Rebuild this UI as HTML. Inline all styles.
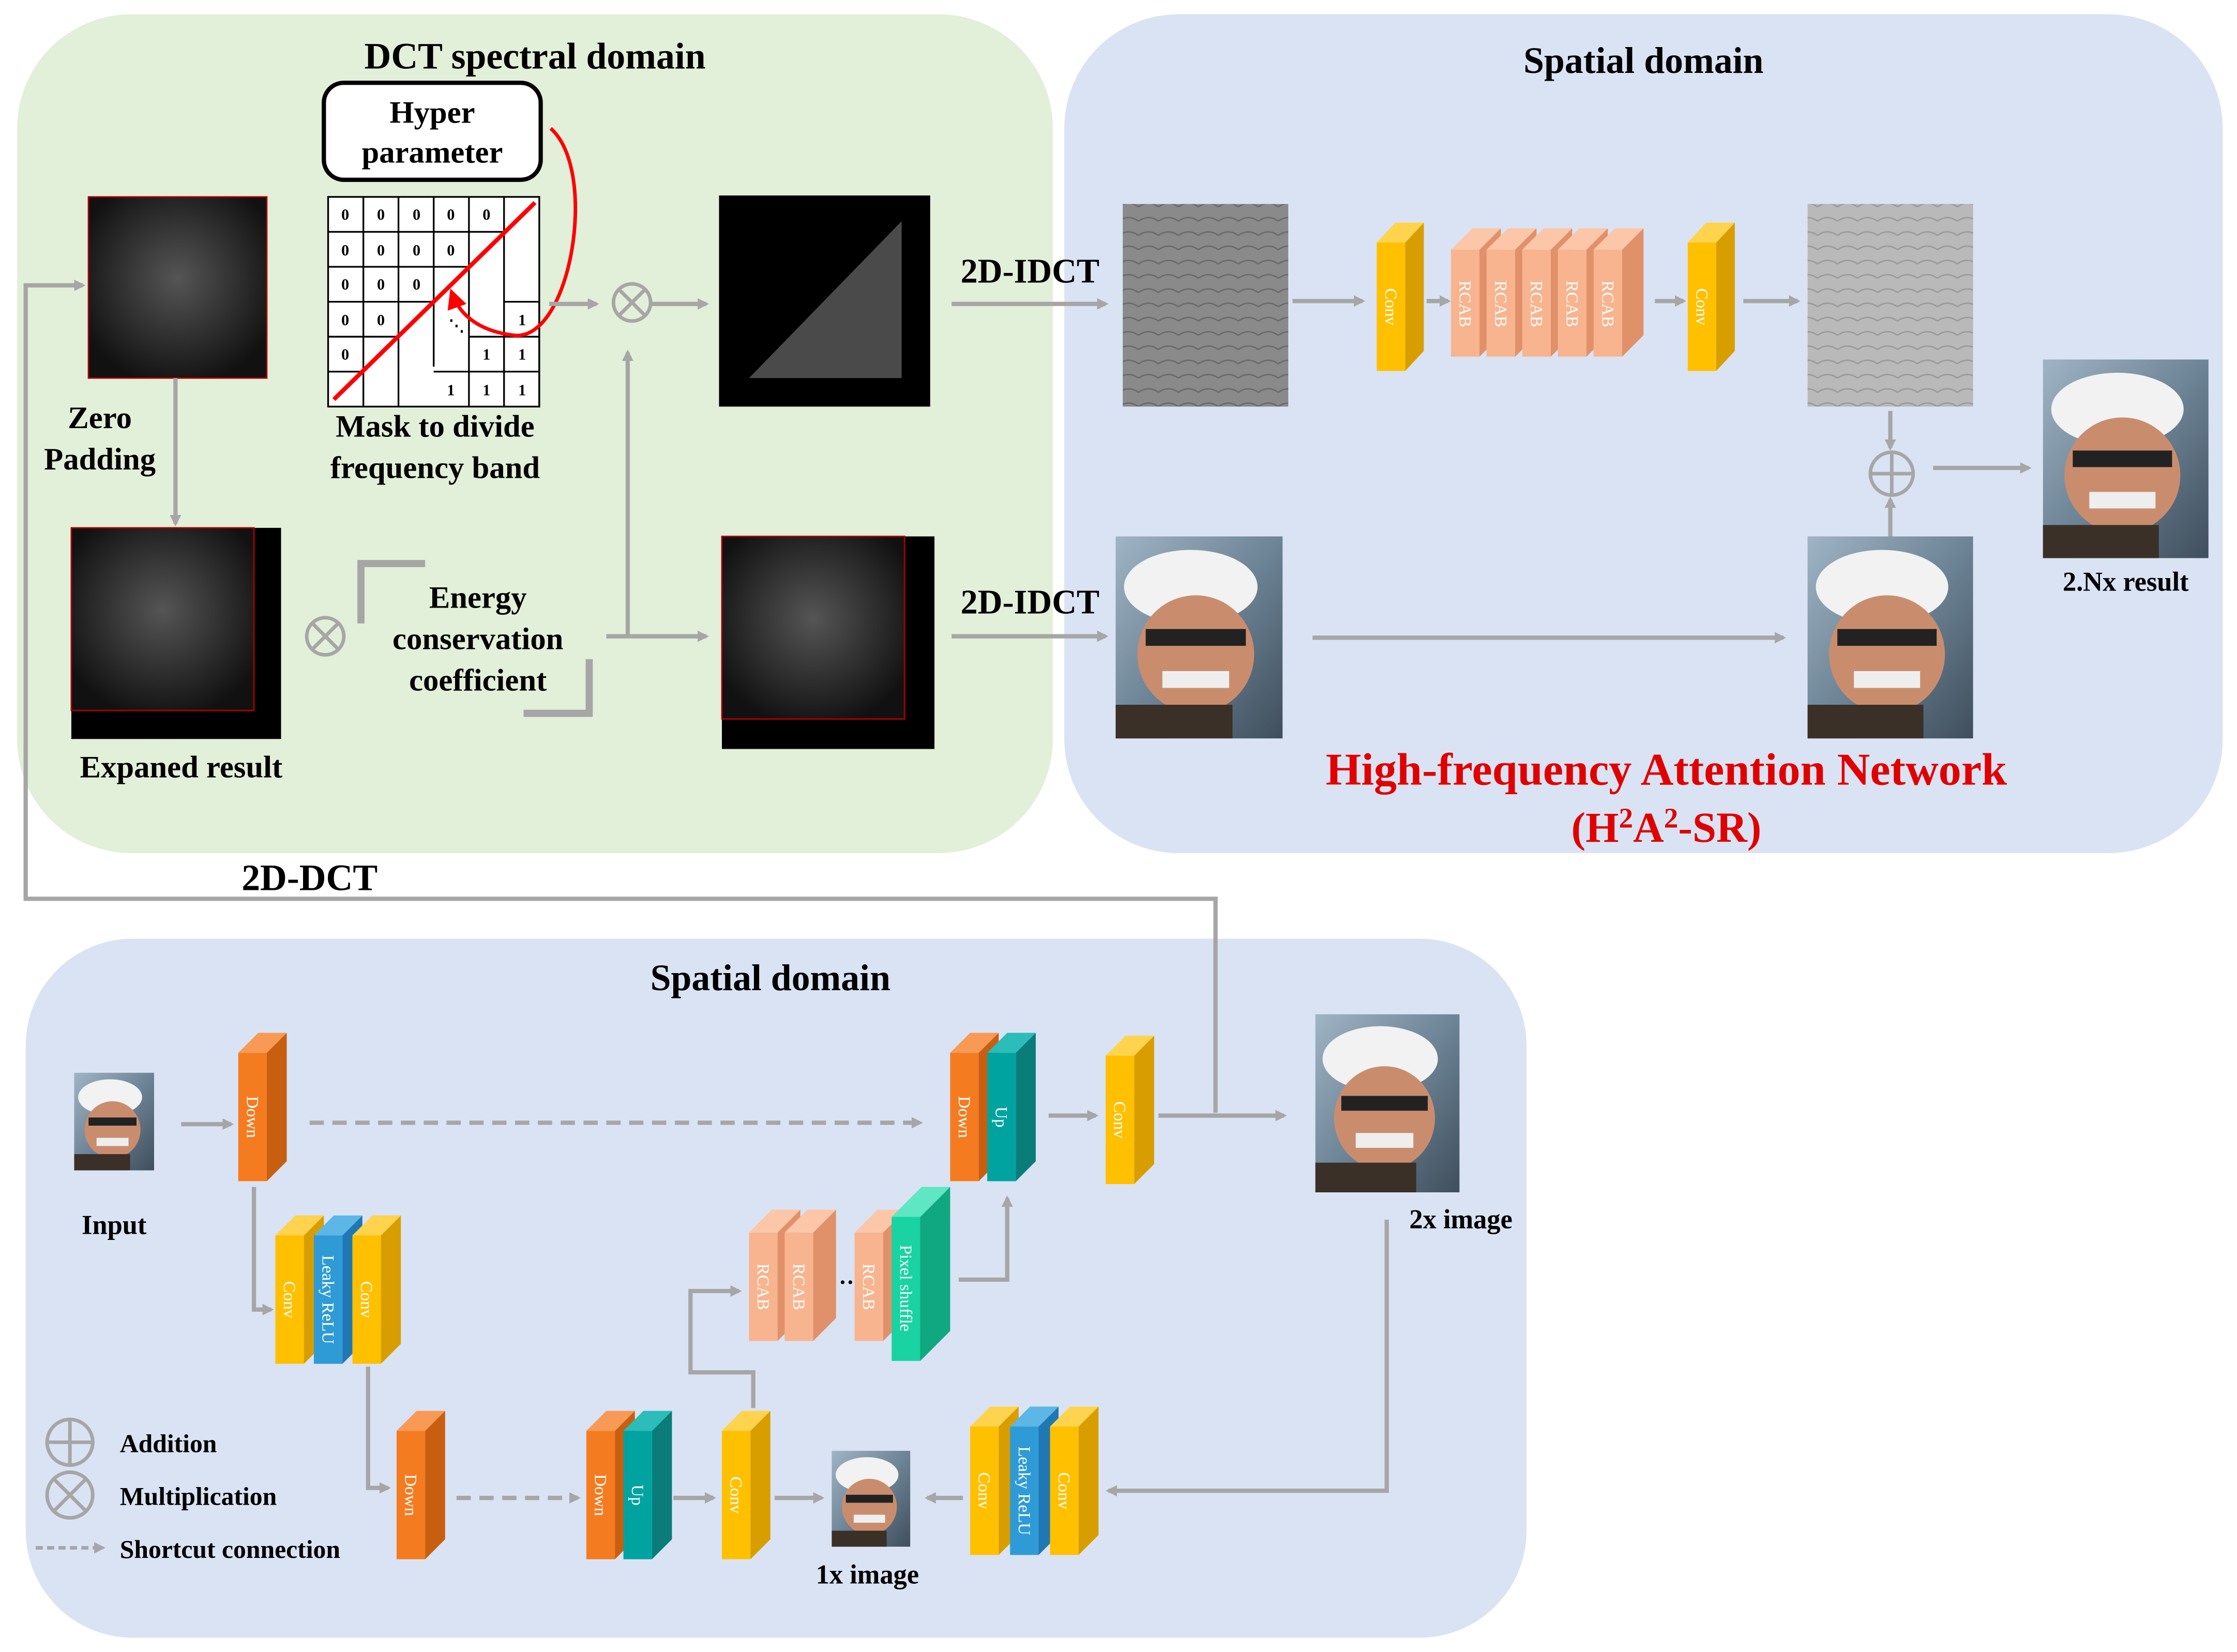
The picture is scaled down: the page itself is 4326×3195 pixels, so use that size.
<!DOCTYPE html>
<html><head><meta charset="utf-8"><style>
html,body{margin:0;padding:0;background:#fff}
svg{display:block}
text{font-family:"Liberation Serif",serif;font-weight:bold}
.bt{fill:#fff;font-family:"Liberation Serif",serif;font-size:12px;font-weight:normal}
</style></head><body>
<svg width="4326" height="3195" viewBox="0 0 1568 1158" xmlns="http://www.w3.org/2000/svg">
<defs>
<marker id="ar" markerWidth="8" markerHeight="8" refX="6" refY="4" orient="auto" markerUnits="userSpaceOnUse"><path d="M0,0 L8,4 L0,8 z" fill="#a6a6a6"/></marker>
<marker id="rr" markerWidth="14" markerHeight="14" refX="10" refY="7" orient="auto" markerUnits="userSpaceOnUse"><path d="M0,0 L14,7 L0,14 z" fill="#f00"/></marker>
<radialGradient id="noise" cx="50%" cy="45%" r="60%"><stop offset="0" stop-color="#555"/><stop offset="1" stop-color="#111"/></radialGradient>
<linearGradient id="face" x1="0" y1="0" x2="1" y2="1"><stop offset="0" stop-color="#9fb4c4"/><stop offset="0.5" stop-color="#6d8496"/><stop offset="1" stop-color="#3f4e5c"/></linearGradient>
<g id="faceimg">
<rect x="0" y="0" width="100" height="120" fill="url(#face)"/>
<ellipse cx="45" cy="30" rx="40" ry="22" fill="#f2f2f2"/>
<ellipse cx="48" cy="70" rx="35" ry="35" fill="#c98d6e"/>
<rect x="18" y="55" width="60" height="10" fill="#222"/>
<rect x="28" y="80" width="40" height="10" fill="#eee"/>
<rect x="0" y="100" width="70" height="20" fill="#3a3028"/>
</g>
<pattern id="grayp" width="14" height="10" patternUnits="userSpaceOnUse"><rect width="14" height="10" fill="#8a8a8a"/><path d="M0,5 Q7,0 14,5" stroke="#6a6a6a" fill="none"/></pattern>
<pattern id="lgp" width="14" height="10" patternUnits="userSpaceOnUse"><rect width="14" height="10" fill="#b9b9b9"/><path d="M0,5 Q7,0 14,5" stroke="#9a9a9a" fill="none"/></pattern>
</defs>

<!-- panels -->
<rect x="12" y="10" width="726" height="588" rx="80" fill="#e2efd9"/>
<rect x="746" y="10" width="812" height="588" rx="80" fill="#dae3f3"/>
<rect x="18" y="658" width="1052" height="490" rx="75" fill="#dae3f3"/>

<text x="375" y="48" font-size="26" text-anchor="middle">DCT spectral domain</text>
<text x="1152" y="51" font-size="26" text-anchor="middle">Spatial domain</text>
<text x="540" y="694" font-size="26" text-anchor="middle">Spatial domain</text>

<!-- hyper parameter -->
<rect x="227" y="58" width="152" height="68" rx="14" fill="#fff" stroke="#000" stroke-width="3"/>
<text x="303" y="86" font-size="22" text-anchor="middle" font-weight="normal">Hyper</text>
<text x="303" y="114" font-size="22" text-anchor="middle" font-weight="normal">parameter</text>

<!-- mask grid -->
<g stroke="#000" stroke-width="1.2" fill="#fff" font-family="Liberation Sans" font-size="10">
<rect x="230" y="138" width="148" height="147"/>
<g fill="none">
<path d="M254.7,138V285 M279.3,138V285 M304,138V257 M328.7,138V285 M353.3,138V285"/>
<path d="M230,162.5H353 M230,187H328 M230,211.5H304 M230,236H279 M230,260.5H254"/>
<path d="M353,211.5H378V285 M328.7,236H378 M304,260.5H378"/>
</g>
</g>
<g font-family="Liberation Sans" font-size="11" font-weight="bold" text-anchor="middle">
<text x="242" y="154">0</text><text x="267" y="154">0</text><text x="292" y="154">0</text><text x="316" y="154">0</text><text x="341" y="154">0</text>
<text x="242" y="179">0</text><text x="267" y="179">0</text><text x="292" y="179">0</text><text x="316" y="179">0</text>
<text x="242" y="203">0</text><text x="267" y="203">0</text><text x="292" y="203">0</text>
<text x="242" y="228">0</text><text x="267" y="228">0</text>
<text x="242" y="252">0</text>
<text x="366" y="228">1</text><text x="341" y="252">1</text><text x="366" y="252">1</text>
<text x="316" y="277">1</text><text x="341" y="277">1</text><text x="366" y="277">1</text>
<text x="320" y="232" font-weight="normal">⋱</text>
</g>
<line x1="234" y1="280" x2="375" y2="142" stroke="#f00" stroke-width="3"/>
<path d="M386,90 C420,120 400,240 360,235 C335,232 322,220 317,206" fill="none" stroke="#f00" stroke-width="2.5" marker-end="url(#rr)"/>
<text x="305" y="306" font-size="22" text-anchor="middle" font-weight="normal">Mask to divide</text>
<text x="305" y="335" font-size="22" text-anchor="middle" font-weight="normal">frequency band</text>

<!-- dct images -->
<rect x="62" y="138" width="125" height="127" fill="url(#noise)" stroke="#a00" stroke-width="1"/>
<text x="70" y="300" font-size="22" text-anchor="middle" font-weight="normal">Zero</text>
<text x="70" y="329" font-size="22" text-anchor="middle" font-weight="normal">Padding</text>
<rect x="50" y="370" width="147" height="148" fill="#000"/>
<rect x="50" y="370" width="128" height="128" fill="url(#noise)" stroke="#a00" stroke-width="1"/>
<text x="127" y="545" font-size="22" text-anchor="middle" font-weight="normal">Expaned result</text>

<rect x="504" y="137" width="148" height="148" fill="#000"/>
<polygon points="525,265 632,155 632,265" fill="#4a4a4a"/>
<rect x="506" y="376" width="149" height="149" fill="#000"/>
<rect x="506" y="376" width="128" height="128" fill="url(#noise)" stroke="#a00" stroke-width="1"/>

<!-- energy -->
<path d="M253,437V395H298" fill="none" stroke="#a6a6a6" stroke-width="5"/>
<path d="M367,500H413V462" fill="none" stroke="#a6a6a6" stroke-width="5"/>
<text x="335" y="426" font-size="22" text-anchor="middle" font-weight="normal">Energy</text>
<text x="335" y="455" font-size="22" text-anchor="middle" font-weight="normal">conservation</text>
<text x="335" y="484" font-size="22" text-anchor="middle" font-weight="normal">coefficient</text>

<!-- otimes -->
<g stroke="#a6a6a6" stroke-width="2.5" fill="none">
<circle cx="443" cy="212" r="13"/><path d="M434,203L452,221M452,203L434,221"/>
<circle cx="228" cy="446" r="13"/><path d="M219,437L237,455M237,437L219,455"/>
<circle cx="1326" cy="332" r="15"/><path d="M1311,332H1341M1326,317V347"/>
</g>

<!-- arrows top -->
<g stroke="#a6a6a6" stroke-width="3" fill="none" marker-end="url(#ar)">
<path d="M385,213H418"/><path d="M457,213H495"/>
<path d="M440,446V247"/><path d="M425,446H495"/>
<path d="M123,265V367"/>
<path d="M667,213H775"/><path d="M667,446H775"/>
<path d="M906,211H955"/><path d="M1000,211H1015"/><path d="M1160,211H1180"/><path d="M1222,211H1260"/>
<path d="M1325,288V314"/><path d="M1325,376V350"/><path d="M1355,328H1422"/>
<path d="M920,447H1250"/>
<path d="M852,780V630H18V200H58"/>
</g>
<text x="722" y="198" font-size="24" text-anchor="middle">2D-IDCT</text>
<text x="722" y="430" font-size="24" text-anchor="middle">2D-IDCT</text>
<text x="217" y="624" font-size="26" text-anchor="middle">2D-DCT</text>

<!-- spatial images -->
<rect x="787" y="143" width="116" height="142" fill="url(#grayp)"/>
<rect x="1267" y="143" width="116" height="142" fill="url(#lgp)"/>
<use href="#faceimg" transform="translate(782,376) scale(1.17,1.18)"/>
<use href="#faceimg" transform="translate(1267,376) scale(1.16,1.18)"/>
<use href="#faceimg" transform="translate(1432,252) scale(1.16,1.16)"/>
<text x="1490" y="414" font-size="19" text-anchor="middle">2.Nx result</text>
<text x="1168" y="550" font-size="32" fill="#e00000" text-anchor="middle">High-frequency Attention Network</text>
<text x="1168" y="590" font-size="30" fill="#e00000" text-anchor="middle">(H<tspan font-size="20" dy="-10">2</tspan><tspan dy="10">A</tspan><tspan font-size="20" dy="-10">2</tspan><tspan dy="10">-SR)</tspan></text>

<!-- blocks: front rect, side, top -->
<!-- yellow conv top -->
<g id="b1" transform="translate(965,170)">
<polygon points="20,0 33,-14 33,76 20,90" fill="#d89e00"/><polygon points="0,0 13,-14 33,-14 20,0" fill="#ffd34d"/><rect width="20" height="90" fill="#ffc000"/>
<text class="bt" transform="translate(10,45) rotate(90)" text-anchor="middle" dy="4">Conv</text></g>
<g transform="translate(1183,170)">
<polygon points="20,0 33,-14 33,76 20,90" fill="#d89e00"/><polygon points="0,0 13,-14 33,-14 20,0" fill="#ffd34d"/><rect width="20" height="90" fill="#ffc000"/>
<text class="bt" transform="translate(10,45) rotate(90)" text-anchor="middle" dy="4">Conv</text></g>
<!-- RCAB x5 -->
<g transform="translate(1017,175)"><polygon points="20,0 35,-15 35,60 20,75" fill="#e0916a"/><polygon points="0,0 15,-15 35,-15 20,0" fill="#fbc7a8"/><rect width="20" height="75" fill="#f8b48f"/><text class="bt" transform="translate(10,38) rotate(90)" text-anchor="middle" dy="4">RCAB</text></g>
<g transform="translate(1042,175)"><polygon points="20,0 35,-15 35,60 20,75" fill="#e0916a"/><polygon points="0,0 15,-15 35,-15 20,0" fill="#fbc7a8"/><rect width="20" height="75" fill="#f8b48f"/><text class="bt" transform="translate(10,38) rotate(90)" text-anchor="middle" dy="4">RCAB</text></g>
<g transform="translate(1067,175)"><polygon points="20,0 35,-15 35,60 20,75" fill="#e0916a"/><polygon points="0,0 15,-15 35,-15 20,0" fill="#fbc7a8"/><rect width="20" height="75" fill="#f8b48f"/><text class="bt" transform="translate(10,38) rotate(90)" text-anchor="middle" dy="4">RCAB</text></g>
<g transform="translate(1092,175)"><polygon points="20,0 35,-15 35,60 20,75" fill="#e0916a"/><polygon points="0,0 15,-15 35,-15 20,0" fill="#fbc7a8"/><rect width="20" height="75" fill="#f8b48f"/><text class="bt" transform="translate(10,38) rotate(90)" text-anchor="middle" dy="4">RCAB</text></g>
<g transform="translate(1117,175)"><polygon points="20,0 35,-15 35,60 20,75" fill="#e0916a"/><polygon points="0,0 15,-15 35,-15 20,0" fill="#fbc7a8"/><rect width="20" height="75" fill="#f8b48f"/><text class="bt" transform="translate(10,38) rotate(90)" text-anchor="middle" dy="4">RCAB</text></g>

<!-- bottom arrows -->
<g stroke="#a6a6a6" stroke-width="3" fill="none" marker-end="url(#ar)">
<path d="M127,788H162"/>
<path d="M178,832V918H190"/>
<path d="M258,958V1043H272"/>
<path d="M472,1050H500"/><path d="M543,1050H576"/><path d="M675,1050H650"/>
<path d="M972,855V1045H777"/>
<path d="M528,987V962H484V905H518"/>
<path d="M672,897H706V840"/>
<path d="M735,782H768"/><path d="M812,782H900"/>
</g>
<g stroke="#a6a6a6" stroke-width="3" fill="none" stroke-dasharray="10,6" marker-end="url(#ar)">
<path d="M217,787H645"/><path d="M320,1050H405"/>
</g>

<!-- bottom blocks -->
<g transform="translate(167,738)"><polygon points="20,0 34,-14 34,76 20,90" fill="#c85f10"/><polygon points="0,0 14,-14 34,-14 20,0" fill="#f89a55"/><rect width="20" height="90" fill="#f47b20"/><text class="bt" transform="translate(10,45) rotate(90)" text-anchor="middle" dy="4">Down</text></g>
<g transform="translate(193,866)"><polygon points="20,0 34,-14 34,76 20,90" fill="#d89e00"/><polygon points="0,0 14,-14 34,-14 20,0" fill="#ffd34d"/><rect width="20" height="90" fill="#ffc000"/><text class="bt" transform="translate(10,45) rotate(90)" text-anchor="middle" dy="4">Conv</text></g>
<g transform="translate(220,866)"><polygon points="20,0 34,-14 34,76 20,90" fill="#1f78b4"/><polygon points="0,0 14,-14 34,-14 20,0" fill="#5cb6e6"/><rect width="20" height="90" fill="#2e9bd6"/><text class="bt" transform="translate(10,45) rotate(90)" text-anchor="middle" dy="4">Leaky ReLU</text></g>
<g transform="translate(247,866)"><polygon points="20,0 34,-14 34,76 20,90" fill="#d89e00"/><polygon points="0,0 14,-14 34,-14 20,0" fill="#ffd34d"/><rect width="20" height="90" fill="#ffc000"/><text class="bt" transform="translate(10,45) rotate(90)" text-anchor="middle" dy="4">Conv</text></g>
<g transform="translate(278,1003)"><polygon points="20,0 34,-14 34,76 20,90" fill="#c85f10"/><polygon points="0,0 14,-14 34,-14 20,0" fill="#f89a55"/><rect width="20" height="90" fill="#f47b20"/><text class="bt" transform="translate(10,45) rotate(90)" text-anchor="middle" dy="4">Down</text></g>
<g transform="translate(411,1003)"><polygon points="20,0 34,-14 34,76 20,90" fill="#c85f10"/><polygon points="0,0 14,-14 34,-14 20,0" fill="#f89a55"/><rect width="20" height="90" fill="#f47b20"/><text class="bt" transform="translate(10,45) rotate(90)" text-anchor="middle" dy="4">Down</text></g>
<g transform="translate(437,1003)"><polygon points="20,0 34,-14 34,76 20,90" fill="#0a7d7b"/><polygon points="0,0 14,-14 34,-14 20,0" fill="#2cbcb9"/><rect width="20" height="90" fill="#00a3a0"/><text class="bt" transform="translate(10,45) rotate(90)" text-anchor="middle" dy="4">Up</text></g>
<g transform="translate(506,1003)"><polygon points="20,0 34,-14 34,76 20,90" fill="#d89e00"/><polygon points="0,0 14,-14 34,-14 20,0" fill="#ffd34d"/><rect width="20" height="90" fill="#ffc000"/><text class="bt" transform="translate(10,45) rotate(90)" text-anchor="middle" dy="4">Conv</text></g>
<g transform="translate(680,1000)"><polygon points="20,0 34,-14 34,76 20,90" fill="#d89e00"/><polygon points="0,0 14,-14 34,-14 20,0" fill="#ffd34d"/><rect width="20" height="90" fill="#ffc000"/><text class="bt" transform="translate(10,45) rotate(90)" text-anchor="middle" dy="4">Conv</text></g>
<g transform="translate(708,1000)"><polygon points="20,0 34,-14 34,76 20,90" fill="#1f78b4"/><polygon points="0,0 14,-14 34,-14 20,0" fill="#5cb6e6"/><rect width="20" height="90" fill="#2e9bd6"/><text class="bt" transform="translate(10,45) rotate(90)" text-anchor="middle" dy="4">Leaky ReLU</text></g>
<g transform="translate(736,1000)"><polygon points="20,0 34,-14 34,76 20,90" fill="#d89e00"/><polygon points="0,0 14,-14 34,-14 20,0" fill="#ffd34d"/><rect width="20" height="90" fill="#ffc000"/><text class="bt" transform="translate(10,45) rotate(90)" text-anchor="middle" dy="4">Conv</text></g>
<g transform="translate(666,738)"><polygon points="20,0 34,-14 34,76 20,90" fill="#c85f10"/><polygon points="0,0 14,-14 34,-14 20,0" fill="#f89a55"/><rect width="20" height="90" fill="#f47b20"/><text class="bt" transform="translate(10,45) rotate(90)" text-anchor="middle" dy="4">Down</text></g>
<g transform="translate(692,738)"><polygon points="20,0 34,-14 34,76 20,90" fill="#0a7d7b"/><polygon points="0,0 14,-14 34,-14 20,0" fill="#2cbcb9"/><rect width="20" height="90" fill="#00a3a0"/><text class="bt" transform="translate(10,45) rotate(90)" text-anchor="middle" dy="4">Up</text></g>
<g transform="translate(775,740)"><polygon points="20,0 34,-14 34,76 20,90" fill="#d89e00"/><polygon points="0,0 14,-14 34,-14 20,0" fill="#ffd34d"/><rect width="20" height="90" fill="#ffc000"/><text class="bt" transform="translate(10,45) rotate(90)" text-anchor="middle" dy="4">Conv</text></g>
<g transform="translate(525,864)"><polygon points="20,0 36,-16 36,60 20,76" fill="#e0916a"/><polygon points="0,0 16,-16 36,-16 20,0" fill="#fbc7a8"/><rect width="20" height="76" fill="#f8b48f"/><text class="bt" transform="translate(10,38) rotate(90)" text-anchor="middle" dy="4">RCAB</text></g>
<g transform="translate(550,864)"><polygon points="20,0 36,-16 36,60 20,76" fill="#e0916a"/><polygon points="0,0 16,-16 36,-16 20,0" fill="#fbc7a8"/><rect width="20" height="76" fill="#f8b48f"/><text class="bt" transform="translate(10,38) rotate(90)" text-anchor="middle" dy="4">RCAB</text></g>
<text x="588" y="900" font-size="16" font-weight="normal">…</text>
<g transform="translate(599,864)"><polygon points="20,0 36,-16 36,60 20,76" fill="#e0916a"/><polygon points="0,0 16,-16 36,-16 20,0" fill="#fbc7a8"/><rect width="20" height="76" fill="#f8b48f"/><text class="bt" transform="translate(10,38) rotate(90)" text-anchor="middle" dy="4">RCAB</text></g>
<g transform="translate(625,853)"><polygon points="20,0 41,-21 41,80 20,101" fill="#10a880"/><polygon points="0,0 21,-21 41,-21 20,0" fill="#5fe6c2"/><rect width="20" height="101" fill="#19d3a2"/><text class="bt" transform="translate(10,50) rotate(90)" text-anchor="middle" dy="4">Pixel shuffle</text></g>

<!-- bottom images -->
<use href="#faceimg" transform="translate(52,752) scale(0.56,0.57)"/>
<text x="80" y="865" font-size="19" text-anchor="middle">Input</text>
<use href="#faceimg" transform="translate(922,711) scale(1.01,1.04)"/>
<text x="1024" y="861" font-size="19" text-anchor="middle">2x image</text>
<use href="#faceimg" transform="translate(583,1017) scale(0.55,0.56)"/>
<text x="608" y="1110" font-size="19" text-anchor="middle">1x image</text>

<!-- legend -->
<g stroke="#a6a6a6" stroke-width="2.5" fill="none">
<circle cx="49" cy="1011" r="16"/><path d="M33,1011H65M49,995V1027"/>
<circle cx="49" cy="1048" r="16"/><path d="M38,1037L60,1059M60,1037L38,1059"/>
<path d="M25,1085H72" stroke-dasharray="5,3" marker-end="url(#ar)"/>
</g>
<text x="84" y="1018" font-size="18">Addition</text>
<text x="84" y="1055" font-size="18">Multiplication</text>
<text x="84" y="1092" font-size="18">Shortcut connection</text>
</svg>
</body></html>
